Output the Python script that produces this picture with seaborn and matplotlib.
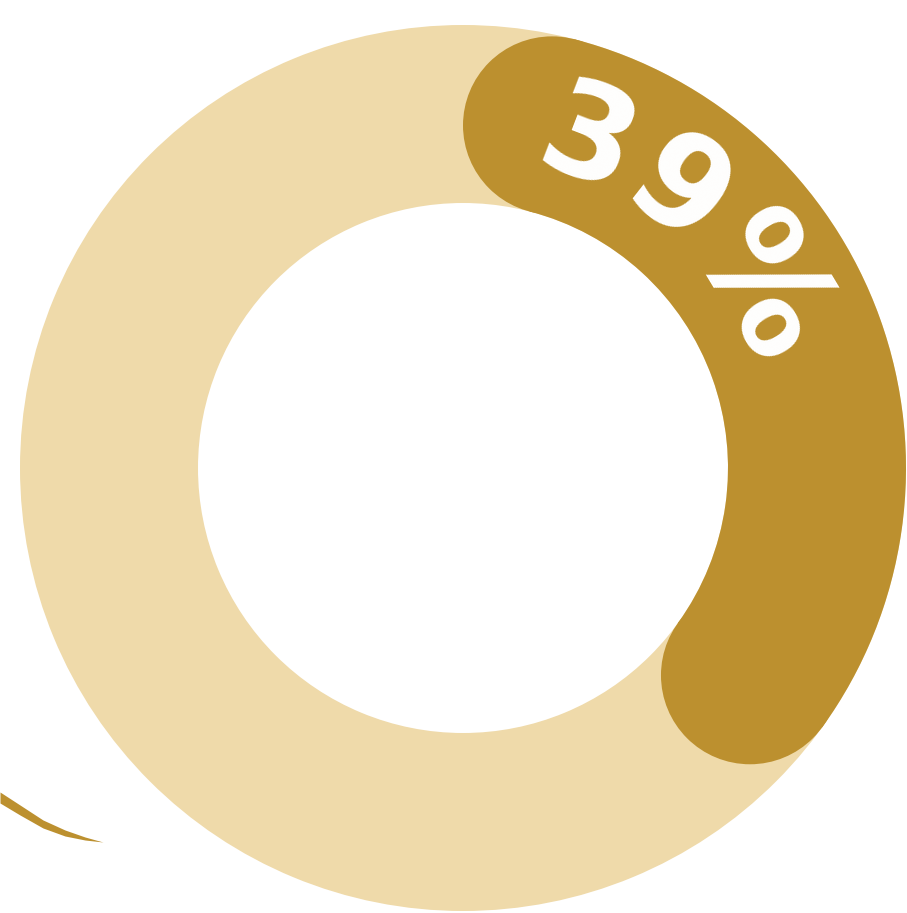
import numpy as np
import matplotlib
matplotlib.use("Agg")
import matplotlib.pyplot as plt
from matplotlib.patches import Wedge, Circle
import seaborn as sns

# ---- data ----
share_pct = 39
label_chars = ["3", "9", "%"]
char_angles = [21, 38, 59]          # degrees clockwise from top along the ring
char_sizes = [94, 94, 102]
stroke_x = [0, 20, 43, 65, 85, 103]
stroke_top = [792, 805, 820, 830, 837, 842]
stroke_bot = [803, 815, 828, 836, 840, 842]

light = "#EFDAAA"
dark = "#BC902F"

sns.set_theme(style="white")
plt.rcParams['font.family'] = ['DejaVu Sans']

W, H = 907, 913
fig = plt.figure(figsize=(W / 100, H / 100), dpi=100)
ax = fig.add_axes([0, 0, 1, 1])
ax.set_xlim(0, W)
ax.set_ylim(H, 0)
ax.set_aspect("equal")
ax.axis("off")

cx, cy = 463, 468
r_out, r_in = 443, 265
width = r_out - r_in
r_mid = (r_out + r_in) / 2
cap = width / 2

ax.add_patch(Wedge((cx, cy), r_out, 0, 360, width=width, facecolor=light, edgecolor="none"))

total = share_pct / 100 * 360
cap_ang = np.degrees(np.arcsin(cap / r_mid))
start = cap_ang
end = total - cap_ang
ax.add_patch(Wedge((cx, cy), r_out, start - 90, end - 90, width=width,
                   facecolor=dark, edgecolor="none"))
for a in (start, end):
    t = np.radians(a)
    ax.add_patch(Circle((cx + r_mid * np.sin(t), cy - r_mid * np.cos(t)), cap,
                        facecolor=dark, edgecolor="none"))

for ch, a, fs in zip(label_chars, char_angles, char_sizes):
    t = np.radians(a)
    rr = r_mid + 6
    ax.text(cx + rr * np.sin(t), cy - rr * np.cos(t), ch, color="white",
            fontsize=fs, fontweight="bold", rotation=-a,
            ha="center", va="center_baseline", rotation_mode="anchor")

ax.fill_between(stroke_x, stroke_top, stroke_bot, color=dark, linewidth=0)

fig.savefig("out.png", dpi=100, facecolor="white")
